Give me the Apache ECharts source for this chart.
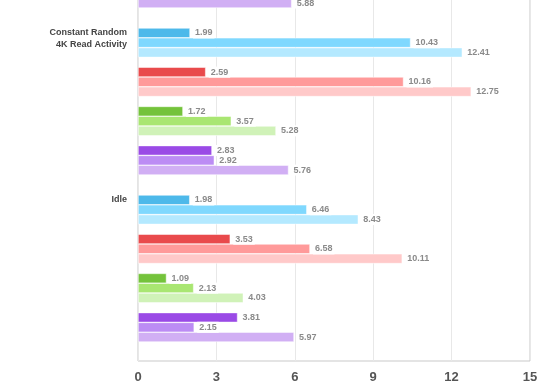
<!DOCTYPE html>
<html>
<head>
<meta charset="utf-8">
<script src="https://cdn.jsdelivr.net/npm/echarts@6/dist/echarts.min.js"></script>
<style>
html,body{margin:0;padding:0;background:#fff;}
#c{width:551px;height:390px;}
</style>
</head>
<body>
<div id="c"></div>
<script>
// Categories (top one is cut off in the reference; its name is not visible)
const categories = ['', 'Constant Random\n4K Read Activity', 'Idle'];
// x-axis ticks
const xTicks = [0, 3, 6, 9, 12, 15];

// Series values per category (null = not visible in the reference)
const blue1   = [null, 1.99, 1.98];
const blue2   = [null, 10.43, 6.46];
const blue3   = [null, 12.41, 8.43];
const red1    = [null, 2.59, 3.53];
const red2    = [null, 10.16, 6.58];
const red3    = [null, 12.75, 10.11];
const green1  = [null, 1.72, 1.09];
const green2  = [null, 3.57, 2.13];
const green3  = [null, 5.28, 4.03];
const purple1 = [null, 2.83, 3.81];
const purple2 = [null, 2.92, 2.15];
const purple3 = [5.88, 5.76, 5.97];

const FONT = '"Liberation Sans", Arial, Helvetica, sans-serif';

function bar(name, data, color) {
  return {
    name: name, type: 'bar', xAxisIndex: 0, yAxisIndex: 0, data: data,
    barGap: '0%', barCategoryGap: '12%',
    itemStyle: { color: color, borderColor: 'rgba(255,255,255,0.8)', borderWidth: 0.6 },
    label: {
      show: true, position: 'right', distance: 3,
      color: '#8a8a8a', fontSize: 9, fontWeight: 'bold', fontFamily: FONT,
      backgroundColor: '#fff', padding: [1, 2],
      formatter: p => p.value == null ? '' : p.value.toFixed(2)
    },
    animation: false
  };
}
function spacer(name) {
  return { name: name, type: 'bar', xAxisIndex: 0, yAxisIndex: 0,
           data: categories.map(() => null), barGap: '0%', barCategoryGap: '12%',
           animation: false, silent: true };
}

const chart = echarts.init(document.getElementById('c'), null, { renderer: 'canvas' });
chart.setOption({
  backgroundColor: '#fff',
  animation: false,
  grid: [
    { left: 138, width: 392, top: -149, height: 501, containLabel: false, outerBoundsMode: 'none' },
    { left: 138, width: 392, top: -149, height: 510, containLabel: false, outerBoundsMode: 'none',
      show: true, borderColor: '#c9c9c9', borderWidth: 1, backgroundColor: 'transparent' }
  ],
  xAxis: [
    { type: 'value', gridIndex: 0, min: 0, max: 15, interval: 3, show: false },
    { type: 'value', gridIndex: 1, min: xTicks[0], max: xTicks[xTicks.length - 1], interval: 3,
      axisLine: { show: false }, axisTick: { show: false },
      splitLine: { show: true, lineStyle: { color: '#e8e8e8', width: 1 } },
      axisLabel: { color: '#555', fontSize: 13, fontWeight: 'bold', fontFamily: FONT, margin: 10 } }
  ],
  yAxis: [
    { type: 'category', gridIndex: 0, data: categories, inverse: true,
      axisLine: { show: false }, axisTick: { show: false }, splitLine: { show: false },
      axisLabel: {
        color: '#444', fontSize: 9, fontWeight: 'bold', fontFamily: FONT,
        lineHeight: 12.6, margin: 11, align: 'right',
        formatter: v => v + '\n'.repeat(12 - v.split('\n').length)
      } },
    { type: 'value', gridIndex: 1, show: false }
  ],
  series: [
    bar('A1', blue1, '#4db9ea'),
    bar('A2', blue2, '#7fd8fe'),
    bar('A3', blue3, '#b4e9ff'),
    spacer('s1'),
    bar('B1', red1, '#e94a4c'),
    bar('B2', red2, '#ff9a9a'),
    bar('B3', red3, '#ffc9c9'),
    spacer('s2'),
    bar('C1', green1, '#74c33b'),
    bar('C2', green2, '#a9e672'),
    bar('C3', green3, '#d0f2b8'),
    spacer('s3'),
    bar('D1', purple1, '#9a4ae6'),
    bar('D2', purple2, '#bc8cf4'),
    bar('D3', purple3, '#d1aff4')
  ]
});
</script>
</body>
</html>
